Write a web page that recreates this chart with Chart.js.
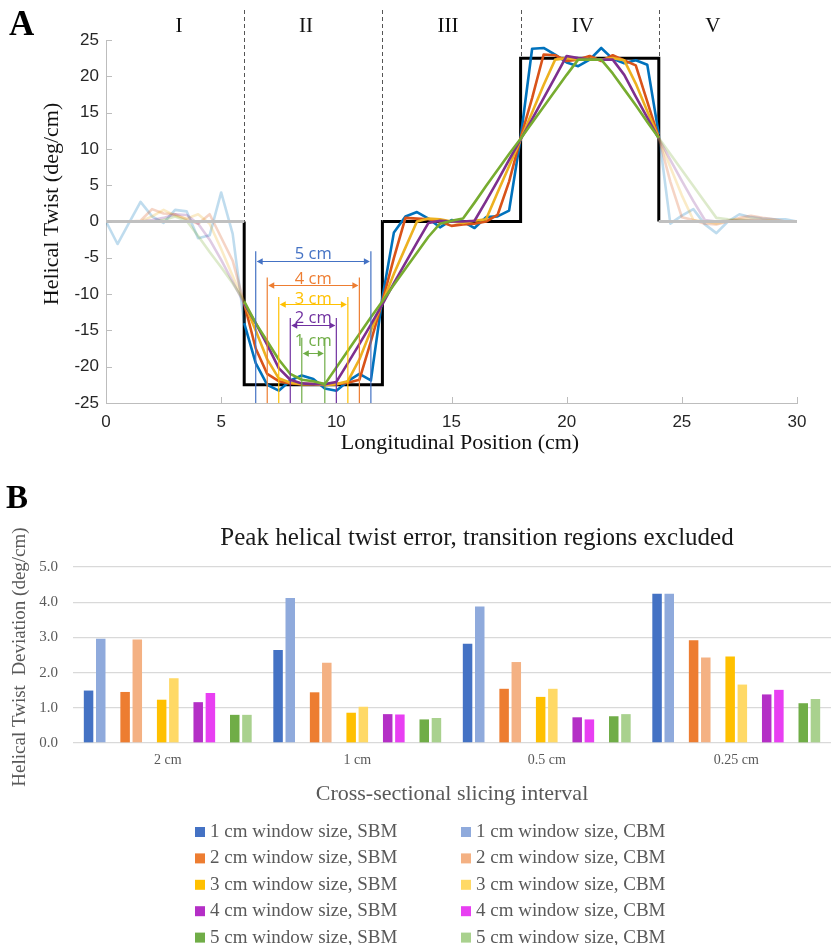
<!DOCTYPE html>
<html><head><meta charset="utf-8">
<script src="https://cdn.jsdelivr.net/npm/chart.js@4.4.0/dist/chart.umd.min.js"></script>
<style>
html,body{margin:0;padding:0;background:#fff;}
#wrap{position:relative;width:831px;height:945px;overflow:hidden;background:#fff;}
#cA{position:absolute;left:0;top:0;}
#cB{position:absolute;left:0;top:460px;}
</style></head><body>
<div id="wrap"><canvas id="cA" width="831" height="460"></canvas><canvas id="cB" width="831" height="485"></canvas></div>
<script>
// ---------- Panel A data ----------
const positionCm = [0,0.5,1,1.5,2,2.5,3,3.5,4,4.5,5,5.5,6,6.5,7,7.5,8,8.5,9,9.5,10,10.5,11,11.5,12,12.5,13,13.5,14,14.5,15,15.5,16,16.5,17,17.5,18,18.5,19,19.5,20,20.5,21,21.5,22,22.5,23,23.5,24,24.5,25,25.5,26,26.5,27,27.5,28,28.5,29,29.5,30];
const twist1cm = [0,-3.1,-0.2,2.7,0.7,-0.2,1.6,1.4,-2.3,-1.9,4.0,-1.7,-14.0,-19.5,-22.5,-23.3,-21.9,-21.2,-21.7,-23.0,-23.3,-22.0,-21.0,-21.9,-10.5,-1.5,0.7,1.3,0.4,-0.8,0.2,0.0,-0.9,0.6,0.7,1.5,11.5,23.8,23.9,23.0,21.9,21.4,22.3,23.9,22.4,21.8,22.2,21.6,12.0,-0.3,0.8,1.7,-0.4,-1.6,0.0,1.0,0.6,0.4,0.3,0.3,0];
const twist2cm = [0,0,0,0.1,1.7,1.1,1.0,0.3,-0.3,1.0,-2.2,-5.4,-11.3,-17.5,-21.0,-22.0,-22.3,-22.4,-22.4,-22.5,-22.4,-22.2,-21.8,-16.5,-11.0,-5.0,0.5,0.4,0.3,0.0,-0.6,-0.4,-0.3,0.0,0.9,5.5,11.5,17.0,23.0,22.9,22.1,22.3,22.8,22.1,22.9,22.2,21.5,16.5,11.5,5.5,0.6,0.2,-0.3,-0.4,0.0,0.5,0.8,0.5,0.3,0.0,0];
const twist3cm = [0,0,0,0,0.7,1.6,0.8,0.4,1.0,-0.3,-3.8,-7.5,-11.2,-15.0,-19.0,-21.6,-22.2,-22.4,-22.4,-22.5,-22.4,-22.0,-19.0,-15.0,-11.2,-7.2,-3.6,0.0,0.4,0.3,0.0,-0.2,0.1,0.3,4.0,7.6,11.3,15.0,18.8,22.3,22.5,22.3,22.4,22.3,22.5,22.2,19.0,15.2,11.5,7.5,3.6,0.2,0.0,-0.3,0.1,0.3,0.4,0.2,0.1,0,0];
const twist4cm = [0,0,0,0,0.2,0.5,1.0,0.9,-0.3,-2.5,-5.3,-8.3,-11.3,-14.0,-17.0,-20.2,-21.8,-22.3,-22.4,-22.4,-22.1,-19.5,-16.9,-14.2,-11.4,-8.5,-5.7,-2.9,-0.2,0.1,0.0,0.0,0.1,2.8,5.6,8.5,11.3,14.1,17.0,19.9,22.8,22.5,22.3,22.3,22.3,20.2,17.2,14.3,11.4,8.5,5.6,2.8,0.2,0.0,0.1,0.2,0.2,0.1,0,0,0];
const twist5cm = [0,0,0,0,0,0.2,0.7,0.1,-2.0,-4.2,-6.3,-8.5,-11.0,-14.0,-16.5,-19.0,-21.0,-21.8,-22.0,-22.4,-20.1,-17.8,-15.5,-13.2,-11.0,-8.7,-6.5,-4.3,-2.1,-0.3,0.1,0.4,2.6,4.9,7.1,9.3,11.4,13.6,15.8,18.0,20.2,22.3,22.3,22.3,20.4,18.2,16.0,13.7,11.5,9.3,7.1,4.9,2.7,0.5,0.3,0.2,0.1,0,0,0,0];
const idealX = [6,6,12,12,18,18,24,24];
const idealY = [0,-22.5,-22.5,0,0,22.5,22.5,0];
const baselineLeftX = [0,6];
const baselineRightX = [24,30];
const baselineY = [0,0];
const regionNames = ['I','II','III','IV','V'];
const regionBoundaries = [6,12,18,24];
// annotation of averaging window widths
const annotWindowCm = [5,4,3,2,1];
const annotLeftCm = [6.5,7,7.5,8,8.5];
const annotRightCm = [11.5,11,10.5,10,9.5];

// ---------- Panel B data ----------
const slicingIntervals = ['2 cm','1 cm','0.5 cm','0.25 cm'];
const sbm1 = [1.49,2.64,2.82,4.24];
const cbm1 = [2.96,4.12,3.88,4.24];
const sbm2 = [1.45,1.44,1.54,2.92];
const cbm2 = [2.94,2.28,2.30,2.43];
const sbm3 = [1.23,0.86,1.31,2.46];
const cbm3 = [1.84,1.03,1.54,1.66];
const sbm4 = [1.16,0.82,0.73,1.38];
const cbm4 = [1.42,0.81,0.67,1.51];
const sbm5 = [0.80,0.67,0.76,1.13];
const cbm5 = [0.80,0.71,0.82,1.25];
const yTicksB = [0,1,2,3,4,5];

// ---------- styles ----------
const SERIF = '"Liberation Serif", "Times New Roman", serif';
const SANS = '"Liberation Sans", Arial, sans-serif';
const lineColors = [[0,114,189],[217,83,25],[237,177,32],[126,47,142],[119,172,48]];
const annotColors = ['#4472C4','#ED7D31','#FFC000','#7030A0','#70AD47'];
const annotLayout = {
  labelY:[-4.5,-7.9,-10.65,-13.3,-16.5], arrowY:[-5.5,-8.7,-11.4,-14.3,-18.1], lineTop:[-4.1,-7.7,-10.4,-13.3,-16.0]
};
const regionLabelX = [3.17,8.68,14.85,20.7,26.35];

Chart.defaults.animation = false;
Chart.defaults.devicePixelRatio = 1;

const pts = (xs, ys) => xs.map((x,i)=>({x:x, y:ys[i]}));
const twistSeries = [twist1cm, twist2cm, twist3cm, twist4cm, twist5cm];

const datasetsA = [];
datasetsA.push({label:'baseL', data:pts(baselineLeftX, baselineY), borderColor:'#c0c0c0', borderWidth:3, pointRadius:0, order:0});
datasetsA.push({label:'baseR', data:pts(baselineRightX, baselineY), borderColor:'#c0c0c0', borderWidth:3, pointRadius:0, order:0});
twistSeries.forEach((s,i)=>{
  const c = lineColors[i];
  const solid = `rgb(${c[0]},${c[1]},${c[2]})`;
  const faded = `rgba(${c[0]},${c[1]},${c[2]},0.25)`;
  datasetsA.push({label:(i+1)+' cm window', data:pts(positionCm, s), borderColor:solid, borderWidth:2.6,
    pointRadius:0, tension:0, borderJoinStyle:'round', order:5-i,
    segment:{borderColor: ctx => (ctx.p1.parsed.x <= 6 || ctx.p0.parsed.x >= 24) ? faded : solid}});
});
datasetsA.push({label:'ideal', data:pts(idealX, idealY), borderColor:'#000', borderWidth:3, pointRadius:0, order:6, borderJoinStyle:'miter'});

function arrowHead(ctx, x, y, dir){
  ctx.beginPath(); ctx.moveTo(x, y); ctx.lineTo(x - dir*6, y - 3.2); ctx.lineTo(x - dir*6, y + 3.2); ctx.closePath(); ctx.fill();
}

const pluginA = {
  id:'panelA',
  afterDraw(chart){
    const {ctx, chartArea:ca, scales:{x, y}} = chart;
    ctx.save();
    ctx.strokeStyle = '#bdbdbd'; ctx.lineWidth = 1;
    x.ticks.forEach(t=>{ const px = Math.round(x.getPixelForValue(t.value))+0.5;
      ctx.beginPath(); ctx.moveTo(px, ca.bottom); ctx.lineTo(px, ca.bottom-6); ctx.stroke(); });
    y.ticks.forEach(t=>{ const py = Math.round(y.getPixelForValue(t.value))+0.5;
      ctx.beginPath(); ctx.moveTo(ca.left, py); ctx.lineTo(ca.left+6, py); ctx.stroke(); });
    ctx.strokeStyle = '#555'; ctx.lineWidth = 1; ctx.setLineDash([4,3]);
    regionBoundaries.forEach(b=>{
      let lvl = -Infinity; idealX.forEach((ix,k)=>{ if (ix===b) lvl = Math.max(lvl, idealY[k]); });
      const px = Math.round(x.getPixelForValue(b))+0.5;
      ctx.beginPath(); ctx.moveTo(px, 10); ctx.lineTo(px, y.getPixelForValue(lvl)); ctx.stroke();
    });
    ctx.setLineDash([]);
    ctx.fillStyle = '#111'; ctx.font = '21px ' + SERIF; ctx.textAlign='center'; ctx.textBaseline='middle';
    regionNames.forEach((n,i)=> ctx.fillText(n, x.getPixelForValue(regionLabelX[i]), 26));
    annotWindowCm.forEach((w,i)=>{
      const col = annotColors[i];
      const xl = x.getPixelForValue(annotLeftCm[i]), xr = x.getPixelForValue(annotRightCm[i]);
      const yTop = y.getPixelForValue(annotLayout.lineTop[i]);
      const ya = Math.round(y.getPixelForValue(annotLayout.arrowY[i]))+0.5;
      ctx.strokeStyle = col; ctx.fillStyle = col; ctx.lineWidth = 1.2;
      [xl, xr].forEach(px=>{ ctx.beginPath(); ctx.moveTo(px, yTop); ctx.lineTo(px, ca.bottom); ctx.stroke(); });
      ctx.lineWidth = 1;
      ctx.beginPath(); ctx.moveTo(xl+2, ya); ctx.lineTo(xr-2, ya); ctx.stroke();
      arrowHead(ctx, xl+1, ya, -1); arrowHead(ctx, xr-1, ya, 1);
      ctx.font = '16.5px "Open Sans", sans-serif'; ctx.textAlign='center'; ctx.textBaseline='middle';
      ctx.fillText(w + ' cm', x.getPixelForValue((annotLeftCm[i]+annotRightCm[i])/2), y.getPixelForValue(annotLayout.labelY[i]));
    });
    ctx.fillStyle = '#111'; ctx.font = '22px ' + SERIF; ctx.textAlign='center'; ctx.textBaseline='middle';
    ctx.fillText('Longitudinal Position (cm)', 460, 443);
    ctx.save(); ctx.translate(52, 204); ctx.rotate(-Math.PI/2); ctx.fillText('Helical Twist (deg/cm)', 0, 0); ctx.restore();
    ctx.font = 'bold 35px ' + SERIF; ctx.textAlign='left'; ctx.textBaseline='alphabetic'; ctx.fillStyle='#000';
    ctx.fillText('A', 9, 35);
    ctx.restore();
  }
};

new Chart(document.getElementById('cA'), {
  type:'line',
  data:{datasets:datasetsA},
  options:{
    responsive:false, maintainAspectRatio:false,
    layout:{padding:{top:40, right:34, left:0, bottom:0}},
    plugins:{legend:{display:false}, tooltip:{enabled:false}},
    scales:{
      x:{type:'linear', min:0, max:30,
        ticks:{stepSize:5, padding:9, color:'#262626', font:{family:SANS, size:17}, maxRotation:0, autoSkip:false},
        grid:{display:false, drawTicks:false}, border:{display:true, color:'#bdbdbd', width:1},
        afterFit(s){ s.height = 57; }},
      y:{type:'linear', min:-25, max:25,
        ticks:{stepSize:5, padding:7, color:'#262626', font:{family:SANS, size:17}},
        grid:{display:false, drawTicks:false}, border:{display:true, color:'#bdbdbd', width:1},
        afterFit(s){ s.width = 106; }}
    }
  },
  plugins:[pluginA]
});

// ---------- Panel B ----------
const barSeries = [
  {label:'1 cm window size, SBM', data:sbm1, color:'#4472C4'},
  {label:'1 cm window size, CBM', data:cbm1, color:'#8FAADC'},
  null,
  {label:'2 cm window size, SBM', data:sbm2, color:'#ED7D31'},
  {label:'2 cm window size, CBM', data:cbm2, color:'#F4B183'},
  null,
  {label:'3 cm window size, SBM', data:sbm3, color:'#FFC000'},
  {label:'3 cm window size, CBM', data:cbm3, color:'#FFD966'},
  null,
  {label:'4 cm window size, SBM', data:sbm4, color:'#B42FC6'},
  {label:'4 cm window size, CBM', data:cbm4, color:'#E83FF2'},
  null,
  {label:'5 cm window size, SBM', data:sbm5, color:'#70AD47'},
  {label:'5 cm window size, CBM', data:cbm5, color:'#A9D18E'}
];
const datasetsB = barSeries.map(s => s ? {label:s.label, data:s.data, backgroundColor:s.color, borderWidth:0}
  : {label:'', data:slicingIntervals.map(()=>null), isGap:true, backgroundColor:'rgba(0,0,0,0)'});

const pluginB = {
  id:'panelB',
  afterDraw(chart){
    const {ctx, chartArea:ca} = chart;
    ctx.save();
    ctx.fillStyle = '#000'; ctx.font = 'bold 33px ' + SERIF; ctx.textAlign='left'; ctx.textBaseline='alphabetic';
    ctx.fillText('B', 6, 48);
    ctx.fillStyle = '#1a1a1a'; ctx.font = '25px ' + SERIF; ctx.textAlign='center'; ctx.textBaseline='middle';
    ctx.fillText('Peak helical twist error, transition regions excluded', 477, 78);
    ctx.fillStyle = '#595959'; ctx.font = '22px ' + SERIF;
    ctx.fillText('Cross-sectional slicing interval', (ca.left+ca.right)/2, 334);
    ctx.save(); ctx.translate(20, 197); ctx.rotate(-Math.PI/2); ctx.font = '19px ' + SERIF;
    ctx.fillText('Helical Twist  Deviation (deg/cm)', 0, 0); ctx.restore();
    ctx.font = '19px ' + SERIF; ctx.textAlign='left'; ctx.textBaseline='middle';
    let k = 0;
    chart.data.datasets.forEach(ds=>{
      if (ds.isGap) return;
      const col = k % 2, row = Math.floor(k/2);
      const bx = 195 + col*266, cy = 372 + row*26.4;
      ctx.fillStyle = ds.backgroundColor; ctx.fillRect(bx, cy-5, 10, 10);
      ctx.fillStyle = '#595959'; ctx.fillText(ds.label, bx+15, cy);
      k++;
    });
    ctx.restore();
  }
};

new Chart(document.getElementById('cB'), {
  type:'bar',
  data:{labels:slicingIntervals, datasets:datasetsB},
  options:{
    responsive:false, maintainAspectRatio:false,
    layout:{padding:{top:107, right:0, left:0, bottom:0}},
    categoryPercentage:0.9, barPercentage:0.78,
    plugins:{legend:{display:false}, tooltip:{enabled:false}},
    scales:{
      x:{ticks:{color:'#595959', font:{family:SERIF, size:14}, padding:9},
        grid:{display:false, drawTicks:false}, border:{display:false},
        afterFit(s){ s.height = 202; }},
      y:{min:0, max:5, afterBuildTicks(s){ s.ticks = yTicksB.map(v=>({value:v})); },
        ticks:{color:'#595959', font:{family:SERIF, size:15}, padding:15, callback:v=>Number(v).toFixed(1)},
        grid:{color:'#d9d9d9', lineWidth:1.3, drawTicks:false}, border:{display:false},
        afterFit(s){ s.width = 73; }}
    }
  },
  plugins:[pluginB]
});
</script>
</body></html>
